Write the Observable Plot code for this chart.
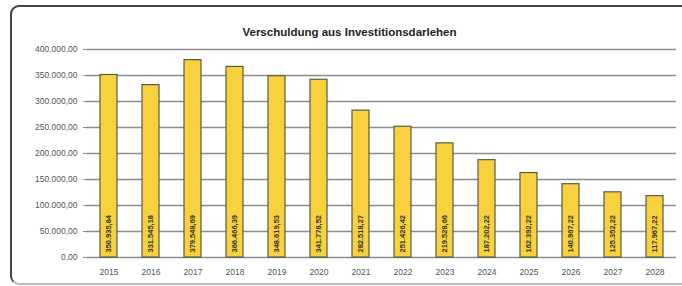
<!DOCTYPE html>
<html><head><meta charset="utf-8">
<script src="https://cdn.jsdelivr.net/npm/d3@7"></script>
<script src="https://cdn.jsdelivr.net/npm/@observablehq/plot@0.6"></script>
<style>
body{margin:0;background:#fff;}
#wrap{position:relative;width:682px;height:286px;overflow:hidden;}
#frame{position:absolute;left:10px;top:5px;width:700px;height:276px;border:2px solid #444;border-bottom-color:#bbb;border-radius:9px;pointer-events:none;}
</style></head>
<body><div id="wrap"><div id="frame"></div></div>
<script>
const years = ["2015","2016","2017","2018","2019","2020","2021","2022","2023","2024","2025","2026","2027","2028"];
const debt = [350935.84,331545.18,379548.69,366466.39,348619.53,341778.52,282518.27,251426.42,219528.66,187202.22,162392.22,140967.22,125352.22,117967.22];
const yTicks = [0,50000,100000,150000,200000,250000,300000,350000,400000];
const title = "Verschuldung aus Investitionsdarlehen";

const de = new Intl.NumberFormat("de-DE",{minimumFractionDigits:2,maximumFractionDigits:2});
const data = years.map((y,i)=>({year:y,value:debt[i]}));

const chart = Plot.plot({
  width:682, height:286,
  marginLeft:86, marginRight:6, marginTop:49, marginBottom:29,
  style:{fontFamily:"Liberation Sans, Arial, sans-serif", background:"transparent"},
  x:{domain:years, paddingInner:0.6, paddingOuter:0.3, label:null, tickSize:0},
  y:{domain:[0,400000], label:null},
  marks:[
    Plot.gridY(yTicks,{stroke:"#8c8c8c", strokeOpacity:1, strokeWidth:1.5}),
    Plot.ruleX([0],{frameAnchor:"left", stroke:"#8c8c8c"}),
    Plot.axisY(yTicks,{tickFormat:d=>de.format(d), tickSize:3, stroke:"#8c8c8c", fill:"#555", fontSize:8.5, tickPadding:6}),
    Plot.axisX({tickSize:0, fill:"#555", fontSize:8.5, tickPadding:11}),
    Plot.barY(data,{x:"year", y:"value", fill:"#f7d23e", stroke:"#5e5a40", strokeWidth:1.2}),
    Plot.text(data,{x:"year", y:()=>0, text:d=>de.format(d.value), rotate:-90, textAnchor:"start", dy:-5, fontSize:7.5, fill:"#333", fontWeight:"bold"}),
    Plot.text([title],{frameAnchor:"top", dx:-32, dy:-22, fontSize:11.5, fontWeight:"bold", fill:"#222"})
  ]
});
document.getElementById("wrap").prepend(chart);
</script></body></html>
